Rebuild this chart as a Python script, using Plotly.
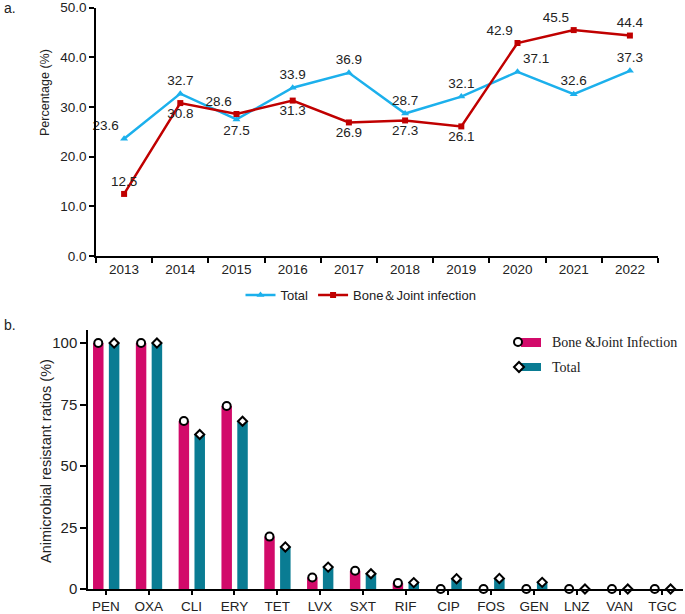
import plotly.graph_objects as go

# ---- Panel a data ----
years = ["2013", "2014", "2015", "2016", "2017", "2018", "2019", "2020", "2021", "2022"]
total_pct = [23.6, 32.7, 27.5, 33.9, 36.9, 28.7, 32.1, 37.1, 32.6, 37.3]
bone_pct = [12.5, 30.8, 28.6, 31.3, 26.9, 27.3, 26.1, 42.9, 45.5, 44.4]
total_textpos = ["top left", "top center", "bottom center", "top center", "top center",
                 "top center", "top center", "top right", "top center", "top center"]
bone_textpos = ["top center", "bottom center", "top left", "bottom center", "bottom center",
                "bottom center", "bottom center", "top left", "top left", "top center"]
y_ticks_a = [0, 10, 20, 30, 40, 50]

# ---- Panel b data ----
drugs = ["PEN", "OXA", "CLI", "ERY", "TET", "LVX", "SXT", "RIF", "CIP", "FOS", "GEN", "LNZ", "VAN", "TGC"]
bone_res = [100, 100, 68.3, 74.4, 21.3, 4.7, 7.4, 2.4, 0, 0, 0, 0, 0, 0]
total_res = [100, 100, 62.8, 68.2, 17.1, 8.9, 6.2, 2.6, 4.2, 4.3, 2.7, 0, 0, 0]
y_ticks_b = [0, 25, 50, 75, 100]

W, H = 685, 614
BLUE = "#1CB0EC"
RED = "#C00000"
PINK = "#D20A6A"
TEAL = "#0A7C93"
FONT = "Liberation Sans, Arial, sans-serif"
SERIF = "Liberation Serif, Times New Roman, serif"

def px(x):
    return x / W

def py(y):
    return 1 - y / H

fig = go.Figure()

# Panel a lines
fig.add_trace(go.Scatter(
    x=years, y=total_pct, mode="lines+markers+text", name="Total",
    line=dict(color=BLUE, width=2.5),
    marker=dict(symbol="triangle-up", size=7, color=BLUE),
    text=[f"{v:.1f}" for v in total_pct], textposition=total_textpos,
    textfont=dict(family=FONT, size=13.5, color="#222"),
    xaxis="x", yaxis="y", legend="legend", cliponaxis=False,
))
fig.add_trace(go.Scatter(
    x=years, y=bone_pct, mode="lines+markers+text", name="Bone\uff06Joint infection",
    line=dict(color=RED, width=2.5),
    marker=dict(symbol="square", size=6, color=RED),
    text=[f"{v:.1f}" for v in bone_pct], textposition=bone_textpos,
    textfont=dict(family=FONT, size=13.5, color="#222"),
    xaxis="x", yaxis="y", legend="legend", cliponaxis=False,
))

# Panel b bars
idx = list(range(len(drugs)))
bw = 0.245
off_p, off_t = -0.18, 0.19
fig.add_trace(go.Bar(
    x=idx, y=bone_res, width=bw, offset=off_p - bw / 2, marker=dict(color=PINK, line=dict(width=0)),
    xaxis="x2", yaxis="y2", showlegend=False,
))
fig.add_trace(go.Bar(
    x=idx, y=total_res, width=bw, offset=off_t - bw / 2, marker=dict(color=TEAL, line=dict(width=0)),
    xaxis="x2", yaxis="y2", showlegend=False,
))
fig.add_trace(go.Scatter(
    x=[i + off_p for i in idx], y=bone_res, mode="markers",
    marker=dict(symbol="circle", size=8, color="white", line=dict(color="black", width=2)),
    xaxis="x2", yaxis="y2", showlegend=False, cliponaxis=False,
))
fig.add_trace(go.Scatter(
    x=[i + off_t for i in idx], y=total_res, mode="markers",
    marker=dict(symbol="diamond", size=7, color="white", line=dict(color="black", width=2)),
    xaxis="x2", yaxis="y2", showlegend=False, cliponaxis=False,
))

axis_common = dict(showline=True, linecolor="black", linewidth=1.5, ticks="outside",
                   tickcolor="black", showgrid=False, zeroline=False, automargin=False)

fig.update_layout(
    width=W, height=H, margin=dict(l=0, r=0, t=0, b=0, autoexpand=False),
    paper_bgcolor="white", plot_bgcolor="white",
    font=dict(family=FONT, color="#222"),
    xaxis=dict(domain=[px(96), px(658)], anchor="y", type="category", tickson="boundaries",
               ticklen=5, tickwidth=1.5, range=[-0.5, 9.5],
               tickfont=dict(size=13.5), **axis_common),
    yaxis=dict(domain=[py(256), py(7.5)], anchor="x", range=[0, 50.05], tickmode="array",
               tickvals=y_ticks_a, ticktext=[f"{v:.1f}" for v in y_ticks_a],
               ticklabeloverflow="allow",
               ticklen=5, tickwidth=1.5, tickfont=dict(size=13.5), **axis_common),
    xaxis2=dict(domain=[px(88), px(683)], anchor="y2", range=[-0.42, 13.48],
                tickmode="array", tickvals=idx, ticktext=drugs, ticklen=4, tickwidth=1.5,
                ticklabeloverflow="allow",
                tickfont=dict(size=13.5), **axis_common),
    yaxis2=dict(domain=[py(589), py(330)], anchor="x2", range=[0, 105.3],
                tickmode="array", tickvals=y_ticks_b, ticklen=6, tickwidth=1.5,
                tickfont=dict(size=15), **axis_common),
    legend=dict(orientation="h", x=px(361), xanchor="center", y=py(295), yanchor="middle",
                itemwidth=30, font=dict(family=FONT, size=13), bgcolor="rgba(0,0,0,0)",
                tracegroupgap=0),
    showlegend=True,
)

annotations = [
    dict(text="a.", x=px(2), y=py(8), xanchor="left", yanchor="middle", font=dict(size=14)),
    dict(text="b.", x=px(2), y=py(325), xanchor="left", yanchor="middle", font=dict(size=14)),
    dict(text="Percentage (%)", x=px(45), y=py(93), textangle=-90, xanchor="center",
         yanchor="middle", font=dict(size=12.5)),
    dict(text="Animicrobial resistant ratios (%)", x=px(46), y=py(461), textangle=-90,
         xanchor="center", yanchor="middle", font=dict(size=14.5)),
    dict(text="Bone &amp;Joint Infection", x=px(550), y=py(342), xanchor="left", yanchor="middle",
         font=dict(family=SERIF, size=14)),
    dict(text="Total", x=px(550), y=py(367), xanchor="left", yanchor="middle",
         font=dict(family=SERIF, size=14)),
]
for a in annotations:
    a.update(xref="paper", yref="paper", showarrow=False)
fig.update_layout(annotations=annotations)

shapes = [
    dict(type="rect", x0=px(521), x1=px(541), y0=py(347), y1=py(338), fillcolor=PINK, line=dict(width=0)),
    dict(type="rect", x0=px(521), x1=px(541), y0=py(371), y1=py(363), fillcolor=TEAL, line=dict(width=0)),
    dict(type="circle", x0=px(514), x1=px(522), y0=py(346), y1=py(338), fillcolor="white",
         line=dict(color="black", width=2)),
    dict(type="path",
         path=f"M {px(519)},{py(362)} L {px(524)},{py(367)} L {px(519)},{py(372)} L {px(514)},{py(367)} Z",
         fillcolor="white", line=dict(color="black", width=2)),
]
for s in shapes:
    s.update(xref="paper", yref="paper")
fig.update_layout(shapes=shapes)

fig.write_html("out.html", config={"displayModeBar": False},
               post_script="document.body.style.margin='0px';document.body.style.overflow='hidden';")
